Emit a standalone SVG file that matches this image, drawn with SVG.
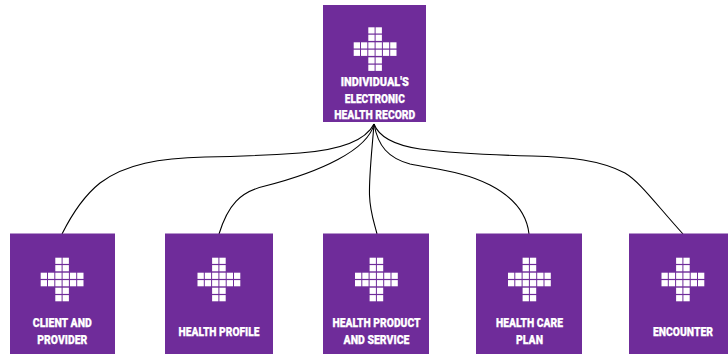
<svg xmlns="http://www.w3.org/2000/svg" width="728" height="354" viewBox="0 0 728 354">
<style>
.box{fill:#6f2c9a}
.c{fill:#fff}
.t{fill:#fff;stroke:#fff;stroke-width:.25;font-family:"Roboto","Liberation Sans",sans-serif;font-weight:900;font-size:13px;text-anchor:middle}
.l{fill:none;stroke:#000;stroke-width:1.1}
</style>
<defs>
<g id="cross">
<rect class="c" x="14.6" y="0" width="6.3" height="6.2"/><rect class="c" x="21.9" y="0" width="6.3" height="6.2"/>
<rect class="c" x="14.6" y="7.4" width="6.3" height="6.2"/><rect class="c" x="21.9" y="7.4" width="6.3" height="6.2"/>
<rect class="c" x="0" y="15" width="6.3" height="6.2"/><rect class="c" x="7.3" y="15" width="6.3" height="6.2"/><rect class="c" x="14.6" y="15" width="6.3" height="6.2"/><rect class="c" x="21.9" y="15" width="6.3" height="6.2"/><rect class="c" x="29.2" y="15" width="6.3" height="6.2"/><rect class="c" x="36.5" y="15" width="6.3" height="6.2"/>
<rect class="c" x="0" y="22.4" width="6.3" height="6.2"/><rect class="c" x="7.3" y="22.4" width="6.3" height="6.2"/><rect class="c" x="14.6" y="22.4" width="6.3" height="6.2"/><rect class="c" x="21.9" y="22.4" width="6.3" height="6.2"/><rect class="c" x="29.2" y="22.4" width="6.3" height="6.2"/><rect class="c" x="36.5" y="22.4" width="6.3" height="6.2"/>
<rect class="c" x="14.6" y="30" width="6.3" height="6.2"/><rect class="c" x="21.9" y="30" width="6.3" height="6.2"/>
<rect class="c" x="14.6" y="37.4" width="6.3" height="6.2"/><rect class="c" x="21.9" y="37.4" width="6.3" height="6.2"/>
</g>
</defs>
<g id="connectors">
<path class="l" d="M374 124C366 140 340 150 300 153C270 155 235 156.500 205 157C160 158 125 164 100 183C85 195 72 214 62 234"/>
<path class="l" d="M374 124C368 150 320 172 265 186C240 192 228 205 219 234"/>
<path class="l" d="M374 124C372 150 369 175 369.500 195C370 212 374 222 377 234"/>
<path class="l" d="M374 124C378 146 388 158 410 164C440 170 465 172 490 185C515 198 527 215 529 234"/>
<path class="l" d="M374 124C380 140 400 146 420 149C450 153 490 155 532 156C570 157 600 160 625 173C640 182 655 203 683 234"/>
</g>
<g id="n-record"><rect class="box" x="323" y="5" width="103" height="117"/><use href="#cross" x="353.700" y="27.300"/>
<text class="t" x="374.800" y="86" textLength="68" lengthAdjust="spacingAndGlyphs">INDIVIDUAL'S</text><text class="t" x="374.800" y="102.700" textLength="60" lengthAdjust="spacingAndGlyphs">ELECTRONIC</text><text class="t" x="374.800" y="119" textLength="81" lengthAdjust="spacingAndGlyphs">HEALTH RECORD</text></g>
<g id="n-client"><rect class="box" x="10" y="233.500" width="105" height="120.500"/><use href="#cross" x="40.700" y="257.700"/>
<text class="t" x="62.300" y="327" textLength="59" lengthAdjust="spacingAndGlyphs">CLIENT AND</text><text class="t" x="62.300" y="344" textLength="50" lengthAdjust="spacingAndGlyphs">PROVIDER</text></g>
<g id="n-profile"><rect class="box" x="165" y="233.500" width="108" height="120.500"/><use href="#cross" x="197.500" y="257.700"/>
<text class="t" x="219" y="335.500" textLength="81" lengthAdjust="spacingAndGlyphs">HEALTH PROFILE</text></g>
<g id="n-product"><rect class="box" x="323" y="233.500" width="106" height="120.500"/><use href="#cross" x="355" y="257.700"/>
<text class="t" x="376.500" y="327" textLength="88" lengthAdjust="spacingAndGlyphs">HEALTH PRODUCT</text><text class="t" x="376.500" y="343.500" textLength="66" lengthAdjust="spacingAndGlyphs">AND SERVICE</text></g>
<g id="n-plan"><rect class="box" x="476" y="233.500" width="106" height="120.500"/><use href="#cross" x="508" y="257.700"/>
<text class="t" x="529.500" y="327" textLength="67" lengthAdjust="spacingAndGlyphs">HEALTH CARE</text><text class="t" x="529.500" y="343.500" textLength="27" lengthAdjust="spacingAndGlyphs">PLAN</text></g>
<g id="n-encounter"><rect class="box" x="629" y="233.500" width="99" height="120.500"/><use href="#cross" x="661.500" y="257.700"/>
<text class="t" x="683" y="335.500" textLength="60" lengthAdjust="spacingAndGlyphs">ENCOUNTER</text></g>
</svg>
